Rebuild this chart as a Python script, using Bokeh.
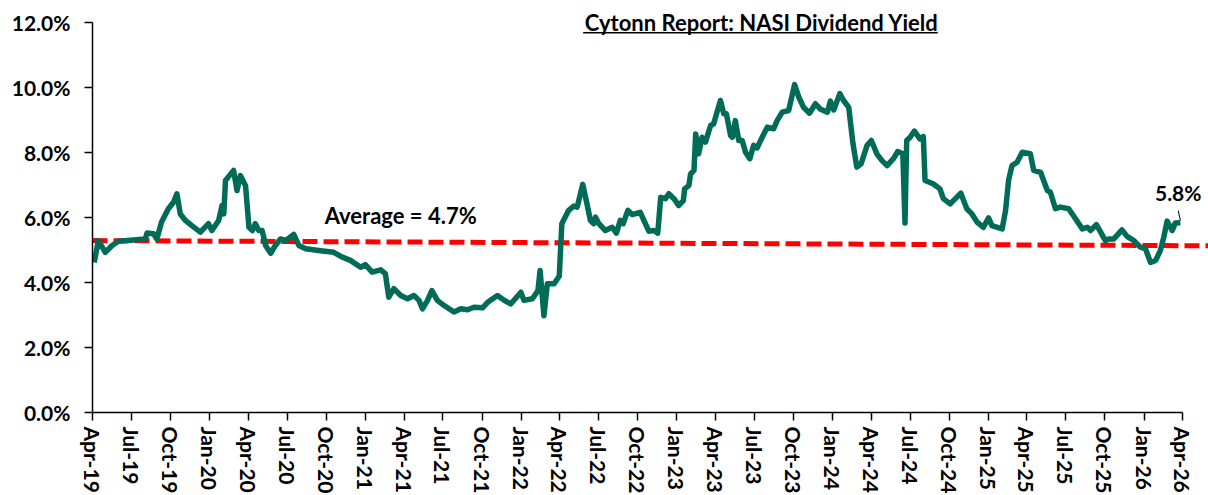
import pandas as pd
from bokeh.plotting import figure
from bokeh.models import (Range1d, FixedTicker, MonthsTicker, DatetimeTickFormatter,
                          PrintfTickFormatter, Label, BoxAnnotation, ColumnDataSource)
from bokeh.embed import file_html
from bokeh.resources import INLINE

# ---------------- data ----------------
dates = [
    "2019-04-05", "2019-04-15", "2019-05-01", "2019-05-17", "2019-06-01", "2019-08-03", "2019-08-07",
    "2019-08-22", "2019-08-30", "2019-09-10", "2019-09-26", "2019-10-08", "2019-10-16", "2019-10-24",
    "2019-11-05", "2019-11-20", "2019-12-10", "2019-12-29", "2020-01-06", "2020-01-22", "2020-01-30",
    "2020-02-03", "2020-02-07", "2020-02-26", "2020-03-05", "2020-03-13", "2020-03-25", "2020-04-02",
    "2020-04-10", "2020-04-17", "2020-04-25", "2020-05-03", "2020-05-11", "2020-05-23", "2020-06-03",
    "2020-06-15", "2020-06-27", "2020-07-16", "2020-07-28", "2020-08-13", "2020-09-17", "2020-10-18",
    "2020-11-07", "2020-11-26", "2020-12-20", "2020-12-31", "2021-01-16", "2021-02-05", "2021-02-16",
    "2021-02-24", "2021-03-08", "2021-03-24", "2021-04-09", "2021-04-24", "2021-05-06", "2021-05-14",
    "2021-05-26", "2021-06-05", "2021-06-18", "2021-07-04", "2021-07-27", "2021-08-12", "2021-08-28",
    "2021-09-12", "2021-10-02", "2021-10-14", "2021-11-06", "2021-11-22", "2021-12-07", "2021-12-31",
    "2022-01-07", "2022-01-27", "2022-02-09", "2022-02-14", "2022-02-23", "2022-03-03", "2022-03-19",
    "2022-03-31", "2022-04-06", "2022-04-22", "2022-05-04", "2022-05-12", "2022-05-25", "2022-06-04",
    "2022-06-12", "2022-06-20", "2022-06-24", "2022-07-02", "2022-07-17", "2022-08-02", "2022-08-12",
    "2022-08-21", "2022-08-28", "2022-09-08", "2022-09-18", "2022-10-07", "2022-10-19", "2022-10-27",
    "2022-11-08", "2022-11-17", "2022-11-24", "2022-12-05", "2022-12-13", "2022-12-25", "2023-01-05",
    "2023-01-16", "2023-01-19", "2023-01-29", "2023-02-02", "2023-02-10", "2023-02-14", "2023-02-21",
    "2023-03-01", "2023-03-09", "2023-03-21", "2023-03-28", "2023-04-13", "2023-04-21", "2023-04-27",
    "2023-05-07", "2023-05-11", "2023-05-18", "2023-05-26", "2023-06-03", "2023-06-11", "2023-06-21",
    "2023-06-30", "2023-07-08", "2023-07-20", "2023-08-01", "2023-08-16", "2023-08-24", "2023-09-05",
    "2023-09-20", "2023-10-04", "2023-10-14", "2023-10-25", "2023-11-08", "2023-11-22", "2023-12-03",
    "2023-12-20", "2023-12-27", "2024-01-04", "2024-01-18", "2024-01-27", "2024-02-08", "2024-02-18",
    "2024-02-27", "2024-03-08", "2024-03-22", "2024-04-01", "2024-04-14", "2024-04-26", "2024-05-08",
    "2024-05-23", "2024-06-02", "2024-06-14", "2024-06-19", "2024-06-23", "2024-07-01", "2024-07-11",
    "2024-07-24", "2024-08-01", "2024-08-05", "2024-08-24", "2024-09-09", "2024-09-17", "2024-10-03",
    "2024-10-28", "2024-11-11", "2024-11-23", "2024-12-05", "2024-12-20", "2025-01-01", "2025-01-09",
    "2025-02-02", "2025-02-10", "2025-02-17", "2025-02-25", "2025-03-09", "2025-03-21", "2025-04-09",
    "2025-04-17", "2025-05-03", "2025-05-19", "2025-05-26", "2025-06-07", "2025-06-19", "2025-07-08",
    "2025-07-24", "2025-08-09", "2025-08-21", "2025-08-28", "2025-09-11", "2025-09-21", "2025-10-02",
    "2025-10-10", "2025-10-22", "2025-11-10", "2025-11-22", "2025-12-08", "2025-12-23", "2026-01-04",
    "2026-01-16", "2026-01-28", "2026-02-08", "2026-02-16", "2026-02-24", "2026-03-08", "2026-03-15",
    "2026-03-27",
]
yields = [
    4.62, 5.29, 4.93, 5.14, 5.27, 5.34, 5.52,
    5.50, 5.34, 5.86, 6.27, 6.47, 6.73, 6.11,
    5.91, 5.75, 5.55, 5.81, 5.60, 5.91, 6.37,
    6.11, 7.14, 7.45, 6.83, 7.29, 6.98, 5.70,
    5.60, 5.81, 5.60, 5.60, 5.14, 4.90, 5.14,
    5.34, 5.29, 5.48, 5.14, 5.04, 4.98, 4.93,
    4.78, 4.68, 4.47, 4.55, 4.32, 4.39, 4.27,
    3.55, 3.81, 3.60, 3.50, 3.60, 3.45, 3.19,
    3.45, 3.75, 3.45, 3.29, 3.09, 3.19, 3.16,
    3.24, 3.22, 3.39, 3.60, 3.45, 3.34, 3.70,
    3.45, 3.50, 3.75, 4.37, 2.98, 3.96, 3.96,
    4.20, 5.81, 6.22, 6.35, 6.32, 7.02, 6.42,
    5.91, 5.81, 6.01, 5.81, 5.60, 5.70, 5.52,
    5.91, 5.81, 6.22, 6.09, 6.16, 5.81, 5.58,
    5.60, 5.52, 6.62, 6.58, 6.73, 6.58, 6.37,
    6.52, 6.88, 6.98, 7.34, 7.45, 8.57, 7.96,
    8.47, 8.32, 8.83, 8.88, 9.60, 9.19, 9.19,
    8.52, 8.47, 8.98, 8.37, 8.37, 8.01, 7.81,
    8.22, 8.14, 8.47, 8.78, 8.73, 8.98, 9.24,
    9.29, 10.09, 9.70, 9.39, 9.21, 9.50, 9.34,
    9.24, 9.58, 9.31, 9.81, 9.60, 9.39, 8.27,
    7.55, 7.65, 8.22, 8.37, 7.96, 7.75, 7.60,
    7.81, 8.03, 7.96, 5.83, 8.37, 8.47, 8.66,
    8.42, 8.49, 7.14, 7.04, 6.88, 6.58, 6.42,
    6.75, 6.27, 6.11, 5.86, 5.70, 5.99, 5.75,
    5.65, 6.22, 7.14, 7.60, 7.70, 8.01, 7.96,
    7.45, 7.39, 6.83, 6.78, 6.27, 6.32, 6.27,
    5.96, 5.65, 5.70, 5.60, 5.78, 5.55, 5.29,
    5.34, 5.34, 5.62, 5.42, 5.29, 5.09, 5.04,
    4.62, 4.68, 4.98, 5.39, 5.89, 5.60, 5.83,
    5.84,
]
avg_dates = ["2019-04-01", "2026-06-01"]
avg_values = [5.29, 5.13]
y_ticks = [0, 2, 4, 6, 8, 10, 12]
title_text = "Cytonn Report: NASI Dividend Yield"
avg_text = "Average = 4.7%"

# ---------------- styling ----------------
FONT = "Lato"
FS = "21px"
FS_TEXT = "22px"
GREEN = "#006B57"
RED = "#FF0000"


def ms(d):
    return pd.Timestamp(d).value / 1e6


x_start = pd.Timestamp("2019-04-01")
x_axis_end = pd.Timestamp("2026-04-01")
x_end = pd.Timestamp(avg_dates[-1])
Y_TOP = 12 + 22 / 32.5  # headroom above the 12% tick for the title

src = ColumnDataSource(dict(x=pd.to_datetime(dates), y=yields))
avg_src = ColumnDataSource(dict(x=pd.to_datetime(avg_dates), y=avg_values))

p = figure(frame_width=1116, frame_height=412, x_axis_type="datetime",
           x_range=Range1d(x_start, x_end), y_range=Range1d(0, Y_TOP),
           output_backend="svg", toolbar_location=None,
           min_border_left=92, min_border_right=0, min_border_top=0, min_border_bottom=60)
p.outline_line_color = None
p.xgrid.visible = False
p.ygrid.visible = False
p.background_fill_color = "white"
p.border_fill_color = "white"

p.line("x", "y", source=avg_src, line_color=RED, line_width=5, line_dash="15 6")
p.line("x", "y", source=src, line_color=GREEN, line_width=5.5, line_join="round")

# axes
for ax in (p.xaxis[0], p.yaxis[0]):
    ax.axis_line_color = "black"
    ax.axis_line_width = 1.5
    ax.major_tick_line_color = "black"
    ax.major_tick_line_width = 1.5
    ax.major_tick_out = 8
    ax.major_tick_in = 0
    ax.minor_tick_line_color = None
    ax.major_label_text_font = FONT
    ax.major_label_text_font_style = "bold"
    ax.major_label_text_font_size = FS
    ax.major_label_text_color = "black"

p.yaxis.ticker = FixedTicker(ticks=y_ticks)
p.yaxis.formatter = PrintfTickFormatter(format="%.1f%%")
p.yaxis.major_label_standoff = 14
p.yaxis.bounds = (y_ticks[0], y_ticks[-1])

p.xaxis.ticker = MonthsTicker(months=[0, 3, 6, 9])
fmt = "%b-%y"
p.xaxis.formatter = DatetimeTickFormatter(months=fmt, days=fmt, years=fmt, hours=fmt,
                                          minutes=fmt, seconds=fmt, milliseconds=fmt,
                                          microseconds=fmt, minsec=fmt, hourmin=fmt)
p.xaxis.major_label_orientation = "vertical"
p.xaxis.major_label_standoff = 6
p.xaxis.bounds = (ms(x_start), ms(x_axis_end))

# title with underline
p.add_layout(Label(x=ms("2023-07-19"), y=12.0, text=title_text, text_align="center",
                   text_baseline="middle", text_font=FONT, text_font_style="bold",
                   text_font_size=FS_TEXT, text_color="black"))
p.add_layout(BoxAnnotation(left=ms("2022-05-26"), right=ms("2024-09-04"), top=11.71, bottom=11.665,
                           fill_color="black", fill_alpha=1, line_color=None))

# average label
p.add_layout(Label(x=ms("2021-03-24"), y=6.06, text=avg_text, text_align="center",
                   text_baseline="middle", text_font=FONT, text_font_style="bold",
                   text_font_size=FS_TEXT, text_color="black"))

# last value label with leader
last_x = pd.Timestamp(dates[-1])
last_y = yields[-1]
p.add_layout(Label(x=ms(last_x - pd.Timedelta(days=5)), y=last_y + 0.93, text=f"{last_y:.1f}%",
                   text_align="center", text_baseline="middle", text_font=FONT,
                   text_font_style="bold", text_font_size=FS, text_color="black"))
p.segment(x0=[last_x - pd.Timedelta(days=5)], y0=[last_y + 0.37],
          x1=[last_x], y1=[last_y + 0.07], line_color="black", line_width=1)

open("out.html", "w").write(file_html(p, INLINE))
